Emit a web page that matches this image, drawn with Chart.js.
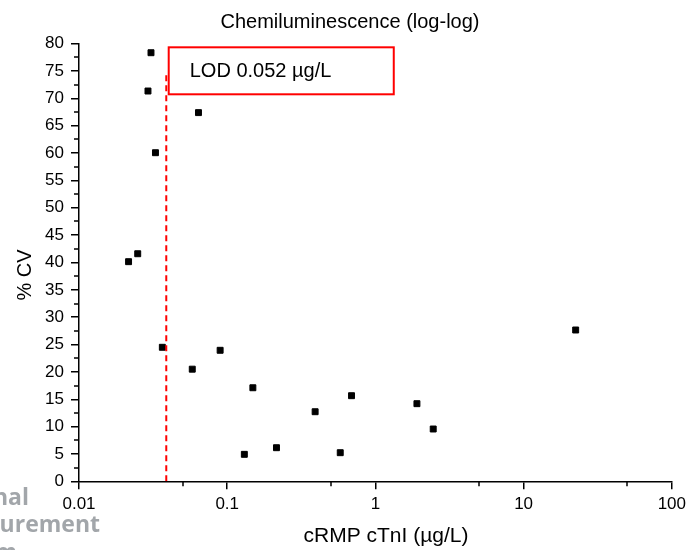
<!DOCTYPE html>
<html lang="en">
<head>
    <meta charset="UTF-8">
    <title>Chemiluminescence (log-log)</title>
    <script src="https://cdn.jsdelivr.net/npm/chart.js@4.4.1/dist/chart.umd.min.js"></script>
    <style>
        html, body { margin: 0; padding: 0; background: #fff; }
        #wrap { width: 691px; height: 550px; position: relative; }
    </style>
</head>
<body>
<div id="wrap">
    <canvas id="myChart" width="691" height="550"></canvas>
</div>
<script>
    // data
    const cvX = [0.0306, 0.0292, 0.064, 0.0328, 0.0249, 0.0216, 0.0365, 0.0581, 0.0896,
                 0.149, 0.1305, 0.215, 0.392, 0.579, 0.69, 1.906, 2.455, 22.45];
    const cvY = [78.35, 71.35, 67.4, 60.07, 41.6, 40.15, 24.5, 20.5, 23.95,
                 17.1, 4.93, 6.14, 12.72, 5.23, 15.65, 14.19, 9.56, 27.66];

    const lodX = [0.0388, 0.0388];
    const lodY = [0, 74.5];
    const lodText = 'LOD 0.052 \u00b5g/L';
    const lodBoxX = [0.0403, 1.33];
    const lodBoxY = [70.75, 79.34];

    const xTicks = [0.01, 0.1, 1, 10, 100];
    const xTickLabels = ['0.01', '0.1', '1', '10', '100'];
    const xMinor = [0.05, 0.5, 5, 50];
    const yTicks = [0, 5, 10, 15, 20, 25, 30, 35, 40, 45, 50, 55, 60, 65, 70, 75, 80];
    const yMinor = [2.5, 7.5, 12.5, 17.5, 22.5, 27.5, 32.5, 37.5, 42.5, 47.5, 52.5, 57.5, 62.5, 67.5, 72.5, 77.5];

    const FONT = "'Liberation Sans', Arial, sans-serif";

    const extras = {
        id: 'extras',
        afterDraw(chart) {
            const ctx = chart.ctx;
            const xs = chart.scales.x, ys = chart.scales.y;
            const area = chart.chartArea;
            ctx.save();

            // minor ticks
            ctx.strokeStyle = '#000';
            ctx.lineWidth = 1.5;
            ctx.beginPath();
            xMinor.forEach(v => {
                const px = Math.round(xs.getPixelForValue(v));
                ctx.moveTo(px, area.bottom);
                ctx.lineTo(px, area.bottom + 5);
            });
            yMinor.forEach(v => {
                const py = Math.round(ys.getPixelForValue(v));
                ctx.moveTo(area.left, py);
                ctx.lineTo(area.left - 5, py);
            });
            ctx.stroke();

            // LOD box
            const bx1 = xs.getPixelForValue(lodBoxX[0]), bx2 = xs.getPixelForValue(lodBoxX[1]);
            const by1 = ys.getPixelForValue(lodBoxY[1]), by2 = ys.getPixelForValue(lodBoxY[0]);
            ctx.strokeStyle = '#ff0000';
            ctx.lineWidth = 2;
            ctx.strokeRect(bx1, by1, bx2 - bx1, by2 - by1);
            ctx.fillStyle = '#000';
            ctx.font = '20px ' + FONT;
            ctx.textBaseline = 'middle';
            ctx.textAlign = 'left';
            ctx.fillText(lodText, bx1 + 21, (by1 + by2) / 2 + 1);

            // titles
            ctx.textAlign = 'center';
            ctx.font = '20px ' + FONT;
            ctx.fillText('Chemiluminescence (log-log)', 350, 22);
            ctx.font = '21px ' + FONT;
            ctx.fillText('cRMP cTnI (\u00b5g/L)', 386, 536);
            ctx.save();
            ctx.translate(25, 275);
            ctx.rotate(-Math.PI / 2);
            ctx.font = '20px ' + FONT;
            ctx.fillText('% CV', 0, 0);
            ctx.restore();

            // watermark in the corner
            ctx.fillStyle = '#a2a6aa';
            ctx.font = "bold 23px 'Open Sans', sans-serif";
            ctx.textAlign = 'right';
            ctx.textBaseline = 'alphabetic';
            ctx.fillText('National', 29, 505);
            ctx.fillText('Measurement', 100, 532);
            ctx.fillText('System', 17, 560);
            ctx.restore();
        }
    };

    const ctx = document.getElementById('myChart');
    const chart = new Chart(ctx, {
        type: 'scatter',
        data: {
            datasets: [{
                label: 'LOD',
                type: 'line',
                data: lodX.map((x, i) => ({x: x, y: lodY[i]})),
                borderColor: '#ff0000',
                borderWidth: 2,
                borderDash: [6, 4],
                pointRadius: 0,
                fill: false
            }, {
                label: '% CV',
                data: cvX.map((x, i) => ({x: x, y: cvY[i]})),
                pointStyle: 'rect',
                pointRadius: 4.2,
                backgroundColor: '#000',
                borderColor: '#000',
                borderWidth: 1
            }]
        },
        options: {
            responsive: false,
            animation: false,
            layout: { padding: { top: 43.7, right: 17, left: 0, bottom: 0 } },
            plugins: {
                legend: { display: false },
                title: { display: false },
                tooltip: { enabled: false }
            },
            scales: {
                x: {
                    type: 'logarithmic',
                    min: 0.01,
                    max: 100,
                    afterFit: s => { s.height = 68.7; },
                    afterBuildTicks: s => { s.ticks = xTicks.map(v => ({value: v})); },
                    border: { display: true, color: '#000', width: 1.5 },
                    grid: { drawOnChartArea: false, drawTicks: true, tickLength: 8, color: '#000', lineWidth: 1.5 },
                    ticks: {
                        autoSkip: false,
                        maxRotation: 0,
                        padding: 5,
                        color: '#000',
                        font: { family: FONT, size: 17 },
                        callback: (v, i) => xTickLabels[i]
                    }
                },
                y: {
                    min: 0,
                    max: 80,
                    afterFit: s => { s.width = 79; },
                    afterBuildTicks: s => { s.ticks = yTicks.map(v => ({value: v})); },
                    border: { display: true, color: '#000', width: 1.5 },
                    grid: { drawOnChartArea: false, drawTicks: true, tickLength: 8, color: '#000', lineWidth: 1.5 },
                    ticks: {
                        autoSkip: false,
                        padding: 7,
                        color: '#000',
                        font: { family: FONT, size: 17 }
                    }
                }
            }
        },
        plugins: [extras]
    });
</script>
</body>
</html>
